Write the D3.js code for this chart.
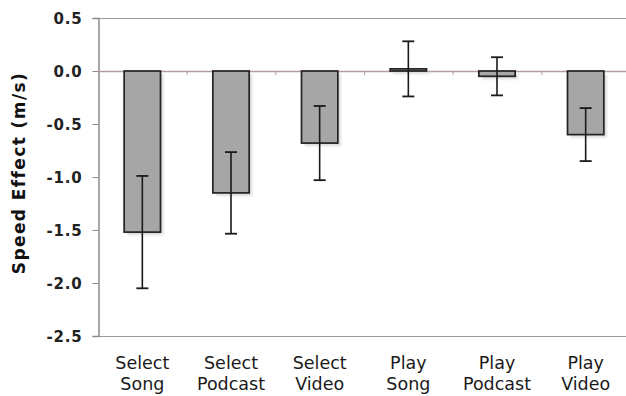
<!DOCTYPE html>
<html>
<head>
<meta charset="utf-8">
<script src="https://cdn.jsdelivr.net/npm/d3@7"></script>
<style>
  html, body { margin: 0; padding: 0; background: #fff; }
  svg { display: block; font-family: "DejaVu Sans", Verdana, sans-serif; }
</style>
</head>
<body>
<svg id="chart" width="626" height="396"></svg>
<script>
// Speed effect per task, with error bars
const categories = [["Select", "Song"], ["Select", "Podcast"], ["Select", "Video"],
                    ["Play", "Song"], ["Play", "Podcast"], ["Play", "Video"]];
const values = [-1.52, -1.15, -0.68, 0.02, -0.05, -0.60];
const errors = [0.53, 0.385, 0.35, 0.26, 0.18, 0.25];
const yTicks = [0.5, 0.0, -0.5, -1.0, -1.5, -2.0, -2.5];

const svg = d3.select("#chart");
const plot = { left: 98, right: 630, top: 18, bottom: 336 };

const x = d3.scaleBand()
  .domain(d3.range(categories.length))
  .range([plot.left, plot.right])
  .paddingInner(0.59).paddingOuter(0.295);

const xCat = d3.scaleBand()
  .domain(d3.range(categories.length))
  .range([plot.left, plot.right]);

const y = d3.scaleLinear().domain([-2.5, 0.5]).range([plot.bottom, plot.top]);

// plot frame
svg.append("line").attr("x1", plot.left).attr("x2", plot.right)
  .attr("y1", plot.top + 0.5).attr("y2", plot.top + 0.5)
  .attr("stroke", "#9a9a9a").attr("stroke-width", 1.2);
svg.append("line").attr("x1", plot.left).attr("x2", plot.right)
  .attr("y1", plot.bottom + 0.5).attr("y2", plot.bottom + 0.5)
  .attr("stroke", "#9a9a9a").attr("stroke-width", 1.2);

// value axis
const yAxis = d3.axisLeft(y).tickValues(yTicks).tickFormat(d3.format(".1f")).tickSize(6).tickPadding(10);
const gy = svg.append("g").attr("transform", `translate(${plot.left + 0.5},0)`).call(yAxis);
gy.select(".domain").attr("stroke", "#8a8a8a").attr("stroke-width", 1.5);
gy.selectAll(".tick line").attr("stroke", "#8a8a8a");
gy.selectAll(".tick text").attr("font-size", 15).attr("font-weight", "bold")
  .attr("letter-spacing", 0.8).attr("dy", "0.36em")
  .attr("fill", "#222").attr("font-family", "'DejaVu Sans', Verdana, sans-serif")
  .text(d => d.toFixed(1));

// zero line with category tick marks
svg.append("line").attr("x1", plot.left).attr("x2", plot.right)
  .attr("y1", y(0) + 0.5).attr("y2", y(0) + 0.5)
  .attr("stroke", "#b39c9a").attr("stroke-width", 1.5);
svg.selectAll(".ctick").data(d3.range(1, categories.length)).join("line")
  .attr("x1", i => xCat(i) + 0.5).attr("x2", i => xCat(i) + 0.5)
  .attr("y1", y(0)).attr("y2", y(0) + 4)
  .attr("stroke", "#b39c9a").attr("stroke-width", 1);

// bar shadows
svg.selectAll(".shadow").data(values).join("rect")
  .attr("x", (d, i) => x(i) + 3)
  .attr("y", d => Math.min(y(0), y(d)) + 3)
  .attr("width", x.bandwidth())
  .attr("height", d => Math.max(Math.abs(y(d) - y(0)), 2))
  .attr("fill", "#d4d4d4").attr("opacity", 0.8)
  .style("filter", "blur(1.2px)");

// bars
svg.selectAll(".bar").data(values).join("rect")
  .attr("x", (d, i) => x(i))
  .attr("y", d => Math.min(y(0), y(d)))
  .attr("width", x.bandwidth())
  .attr("height", d => Math.max(Math.abs(y(d) - y(0)), 2))
  .attr("fill", "#a6a6a6").attr("stroke", "#222").attr("stroke-width", 1.7);

// error bars
const cap = 6;
const eb = svg.selectAll(".err").data(values).join("g")
  .attr("transform", (d, i) => `translate(${x(i) + x.bandwidth() / 2},0)`);
eb.append("line").attr("y1", (d, i) => y(d + errors[i])).attr("y2", (d, i) => y(d - errors[i]))
  .attr("stroke", "#1a1a1a").attr("stroke-width", 1.6);
eb.append("line").attr("x1", -cap).attr("x2", cap)
  .attr("y1", (d, i) => y(d + errors[i])).attr("y2", (d, i) => y(d + errors[i]))
  .attr("stroke", "#1a1a1a").attr("stroke-width", 1.8);
eb.append("line").attr("x1", -cap).attr("x2", cap)
  .attr("y1", (d, i) => y(d - errors[i])).attr("y2", (d, i) => y(d - errors[i]))
  .attr("stroke", "#1a1a1a").attr("stroke-width", 1.8);

// category labels
const lab = svg.selectAll(".cat").data(categories).join("text")
  .attr("text-anchor", "middle")
  .attr("font-size", 17.5).attr("fill", "#1a1a1a");
lab.append("tspan").attr("x", (d, i) => x(i) + x.bandwidth() / 2).attr("y", 369).text(d => d[0]);
lab.append("tspan").attr("x", (d, i) => x(i) + x.bandwidth() / 2).attr("y", 390).text(d => d[1]);

// value axis title
svg.append("text")
  .attr("transform", `translate(25,${(plot.top + plot.bottom) / 2 - 4}) rotate(-90)`)
  .attr("text-anchor", "middle")
  .attr("font-size", 17).attr("font-weight", "bold").attr("fill", "#111")
  .attr("letter-spacing", 1.4)
  .text("Speed Effect (m/s)");
</script>
</body>
</html>
